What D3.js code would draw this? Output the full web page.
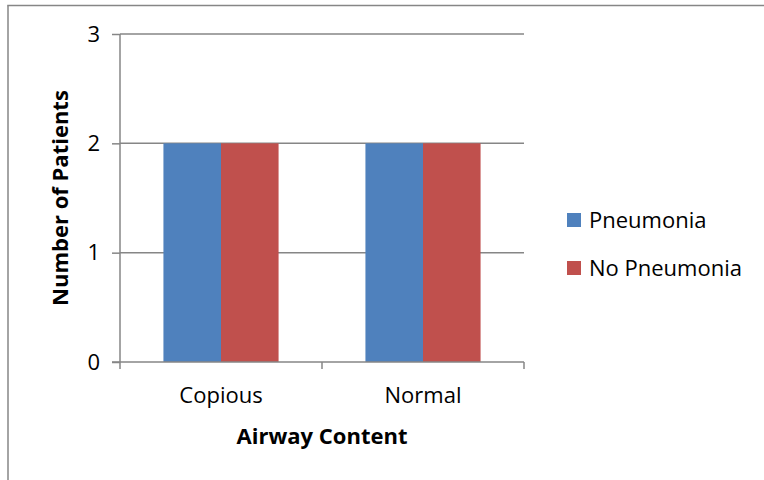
<!DOCTYPE html>
<html>
<head>
<meta charset="utf-8">
<script src="https://cdn.jsdelivr.net/npm/d3@7"></script>
<style>
  html, body { margin: 0; padding: 0; background: #fff; overflow: hidden; }
  svg { display: block; }
  text { font-family: "Open Sans", "Liberation Sans", sans-serif; fill: #000; }
</style>
</head>
<body>
<div id="chart"></div>
<script>
// Patients by airway content, split by pneumonia outcome
const categories = ["Copious", "Normal"];
const seriesNames = ["Pneumonia", "No Pneumonia"];
const pneumonia = [2, 2];
const noPneumonia = [2, 2];
const yTicks = [0, 1, 2, 3];
const colors = ["#4F81BD", "#C0504D"];

const W = 764, H = 480;
const plot = { left: 120, right: 524, top: 34, bottom: 362 };
const FS = 22;

const svg = d3.select("#chart").append("svg")
  .attr("width", W).attr("height", H);

// Outer chart frame: top and left edges (the rest runs off the canvas)
const frame = svg.append("g").attr("stroke", "#868686").attr("stroke-width", 1.5);
frame.append("line").attr("x1", 7.25).attr("x2", W).attr("y1", 5.5).attr("y2", 5.5);
frame.append("line").attr("x1", 8).attr("x2", 8).attr("y1", 5.5).attr("y2", H);

const x0 = d3.scaleBand()
  .domain(categories)
  .range([plot.left, plot.right])
  .paddingInner(0.43).paddingOuter(0.215);

const x1 = d3.scaleBand()
  .domain(seriesNames)
  .range([0, x0.bandwidth()]);

const y = d3.scaleLinear()
  .domain([0, 3])
  .range([plot.bottom, plot.top]);

// Horizontal gridlines
svg.append("g").selectAll("line")
  .data(yTicks.filter(d => d > 0))
  .join("line")
  .attr("x1", plot.left).attr("x2", plot.right)
  .attr("y1", d => y(d)).attr("y2", d => y(d))
  .attr("stroke", "#868686").attr("stroke-width", 1.5);

// Bars
const rows = categories.map((c, i) => ({
  category: c,
  values: [pneumonia[i], noPneumonia[i]]
}));

svg.append("g").selectAll("g")
  .data(rows)
  .join("g")
  .attr("transform", d => `translate(${x0(d.category)},0)`)
  .selectAll("rect")
  .data(d => d.values.map((v, j) => ({ series: seriesNames[j], value: v, color: colors[j] })))
  .join("rect")
  .attr("x", d => x1(d.series))
  .attr("width", x1.bandwidth())
  .attr("y", d => y(d.value))
  .attr("height", d => y(0) - y(d.value))
  .attr("fill", d => d.color);

// Y axis
const yAxis = d3.axisLeft(y).tickValues(yTicks).tickSize(8).tickPadding(12).tickFormat(d3.format("d"));
const gy = svg.append("g")
  .attr("transform", `translate(${plot.left},0)`)
  .call(yAxis);
gy.select(".domain").attr("stroke", "#868686").attr("stroke-width", 1.5).attr("d", `M0,${plot.top}V${plot.bottom}`);
gy.selectAll(".tick line").attr("stroke", "#868686").attr("stroke-width", 1.5);
gy.selectAll(".tick text").attr("font-size", FS).attr("font-family", "Open Sans, sans-serif").attr("fill", "#000");

// X axis with boundary ticks between categories
const gx = svg.append("g")
  .attr("transform", `translate(0,${plot.bottom})`);
gx.append("line")
  .attr("x1", plot.left - 8).attr("x2", plot.right)
  .attr("stroke", "#868686").attr("stroke-width", 1.5);
const bounds = [plot.left, ...categories.slice(1).map(c => x0(c) - x0.step() * x0.paddingInner() / 2), plot.right];
gx.selectAll("line.tk")
  .data(bounds)
  .join("line").attr("class", "tk")
  .attr("x1", d => d).attr("x2", d => d)
  .attr("y1", 0).attr("y2", 7)
  .attr("stroke", "#868686").attr("stroke-width", 1.5);
gx.selectAll("text")
  .data(categories)
  .join("text")
  .attr("x", d => x0(d) + x0.bandwidth() / 2)
  .attr("y", 41)
  .attr("text-anchor", "middle")
  .attr("font-size", FS)
  .text(d => d);

// Axis titles
svg.append("text")
  .attr("x", (plot.left + plot.right) / 2)
  .attr("y", 444)
  .attr("text-anchor", "middle")
  .attr("font-size", FS).attr("font-weight", "bold")
  .text("Airway Content");

svg.append("text")
  .attr("transform", `translate(68,${(plot.top + plot.bottom) / 2}) rotate(-90)`)
  .attr("text-anchor", "middle")
  .attr("font-size", FS).attr("font-weight", "bold")
  .text("Number of Patients");

// Legend
const legend = svg.append("g").attr("transform", "translate(567,213)");
const items = legend.selectAll("g")
  .data(seriesNames)
  .join("g")
  .attr("transform", (d, i) => `translate(0,${i * 48})`);
items.append("rect")
  .attr("width", 14).attr("height", 14)
  .attr("fill", (d, i) => colors[i]);
items.append("text")
  .attr("x", 22).attr("y", 15)
  .attr("font-size", FS)
  .text(d => d);
</script>
</body>
</html>
